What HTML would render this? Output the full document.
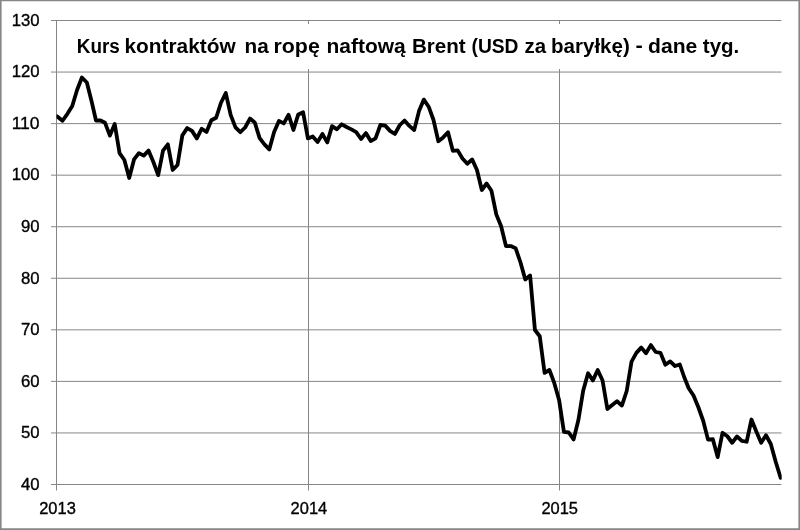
<!DOCTYPE html>
<html lang="pl">
<head>
<meta charset="utf-8">
<title>Kurs kontraktów na ropę naftową Brent (USD za baryłkę) - dane tyg.</title>
<style>
html,body{margin:0;padding:0;background:#fff;}
body{width:800px;height:530px;overflow:hidden;}
svg{display:block;}
text{font-family:"Liberation Sans",sans-serif;fill:#000;}
.ax{font-size:17px;stroke:#000;stroke-width:0.35px;}
.ti{font-size:20.3px;font-weight:bold;}
</style>
</head>
<body>
<svg width="800" height="530" viewBox="0 0 800 530">
<rect x="0" y="0" width="800" height="530" fill="#ffffff"/>
<line x1="51.00" y1="20.50" x2="781.50" y2="20.50" stroke="#868686" stroke-width="1"/>
<line x1="51.00" y1="72.06" x2="781.50" y2="72.06" stroke="#868686" stroke-width="1"/>
<line x1="51.00" y1="123.61" x2="781.50" y2="123.61" stroke="#868686" stroke-width="1"/>
<line x1="51.00" y1="175.17" x2="781.50" y2="175.17" stroke="#868686" stroke-width="1"/>
<line x1="51.00" y1="226.72" x2="781.50" y2="226.72" stroke="#868686" stroke-width="1"/>
<line x1="51.00" y1="278.28" x2="781.50" y2="278.28" stroke="#868686" stroke-width="1"/>
<line x1="51.00" y1="329.83" x2="781.50" y2="329.83" stroke="#868686" stroke-width="1"/>
<line x1="51.00" y1="381.39" x2="781.50" y2="381.39" stroke="#868686" stroke-width="1"/>
<line x1="51.00" y1="432.94" x2="781.50" y2="432.94" stroke="#868686" stroke-width="1"/>
<line x1="51.00" y1="484.50" x2="781.50" y2="484.50" stroke="#868686" stroke-width="1"/>
<line x1="56.50" y1="20.50" x2="56.50" y2="490.50" stroke="#868686" stroke-width="1"/>
<line x1="308.50" y1="20.50" x2="308.50" y2="490.50" stroke="#868686" stroke-width="1"/>
<line x1="559.50" y1="20.50" x2="559.50" y2="490.50" stroke="#868686" stroke-width="1"/>
<rect x="64" y="24" width="690" height="45" fill="#ffffff"/>
<clipPath id="pa"><rect x="56.5" y="10" width="725.2" height="480"/></clipPath>
<polyline clip-path="url(#pa)" points="56.96,116.25 62.49,120.75 67.42,113.80 72.25,106.00 77.08,90.00 81.91,77.50 86.84,82.50 91.57,101.25 96.00,120.50 100.53,120.50 105.06,122.80 109.89,135.60 114.72,123.95 119.55,153.10 124.38,160.00 129.21,178.00 134.04,159.40 138.87,153.10 143.70,155.60 148.53,150.60 153.36,162.00 158.19,175.10 163.02,150.60 167.85,144.30 172.68,170.00 177.51,165.00 182.34,135.40 187.17,128.10 192.00,130.90 196.83,138.40 201.66,128.75 206.49,131.90 211.32,120.25 216.15,117.75 220.98,102.75 225.81,93.05 230.64,114.90 235.47,127.40 240.30,132.15 245.13,127.50 249.96,118.60 254.79,122.50 259.62,138.15 264.45,144.40 269.28,149.40 274.11,131.90 278.94,120.90 283.77,123.40 288.60,114.80 293.43,130.00 298.26,114.40 303.09,112.30 307.92,138.40 312.75,136.50 317.58,142.10 322.41,134.00 327.24,142.40 332.07,126.10 336.90,129.30 341.73,124.30 346.56,127.00 351.39,129.40 356.22,132.10 361.05,139.00 365.88,133.10 370.71,141.10 375.54,138.40 380.37,125.00 385.20,125.60 390.03,130.90 394.86,134.00 399.69,125.25 404.52,120.50 409.35,125.90 414.18,130.10 419.01,111.10 423.84,99.60 428.67,106.70 433.50,120.00 438.33,141.25 443.16,137.40 447.99,132.25 452.82,150.80 457.65,150.40 462.48,158.50 467.31,163.75 472.14,159.40 476.97,170.00 481.80,190.00 486.63,183.50 491.46,190.80 496.29,214.40 501.12,226.25 505.95,246.00 510.78,246.05 515.61,248.20 520.44,262.25 525.27,279.50 530.10,275.40 534.93,330.00 539.76,336.25 544.59,372.90 549.42,370.00 554.25,382.90 559.08,399.90 563.91,431.90 568.74,432.50 573.57,439.45 578.40,420.00 583.23,390.40 588.06,373.25 592.89,380.40 597.72,370.00 602.55,380.50 607.38,409.00 612.21,405.00 617.04,401.25 621.87,405.60 626.70,391.00 631.53,361.60 636.36,352.90 641.19,347.60 646.02,353.25 650.85,345.10 655.68,352.00 660.51,352.90 665.34,364.75 670.17,361.40 675.00,366.00 679.83,364.50 684.26,377.25 688.69,388.20 693.52,395.50 698.35,407.25 703.18,420.75 708.01,439.60 712.84,439.25 717.67,457.10 722.50,432.75 727.33,436.25 732.16,442.75 736.99,436.50 741.82,440.90 746.65,441.75 751.48,419.50 756.31,431.50 761.14,442.75 765.97,435.25 770.80,444.00 775.63,461.50 780.70,477.90" fill="none" stroke="#000000" stroke-width="3.8" stroke-linejoin="round" stroke-linecap="round"/>
<text x="39.6" y="26" text-anchor="end" textLength="27.9" lengthAdjust="spacingAndGlyphs" class="ax">130</text>
<text x="39.6" y="77" text-anchor="end" textLength="27.9" lengthAdjust="spacingAndGlyphs" class="ax">120</text>
<text x="39.6" y="129" text-anchor="end" textLength="27.9" lengthAdjust="spacingAndGlyphs" class="ax">110</text>
<text x="39.6" y="180" text-anchor="end" textLength="27.9" lengthAdjust="spacingAndGlyphs" class="ax">100</text>
<text x="39.6" y="232" text-anchor="end" textLength="18.6" lengthAdjust="spacingAndGlyphs" class="ax">90</text>
<text x="39.6" y="284" text-anchor="end" textLength="18.6" lengthAdjust="spacingAndGlyphs" class="ax">80</text>
<text x="39.6" y="335" text-anchor="end" textLength="18.6" lengthAdjust="spacingAndGlyphs" class="ax">70</text>
<text x="39.6" y="387" text-anchor="end" textLength="18.6" lengthAdjust="spacingAndGlyphs" class="ax">60</text>
<text x="39.6" y="438" text-anchor="end" textLength="18.6" lengthAdjust="spacingAndGlyphs" class="ax">50</text>
<text x="39.6" y="490" text-anchor="end" textLength="18.6" lengthAdjust="spacingAndGlyphs" class="ax">40</text>
<text x="39.20" y="514" textLength="36.6" lengthAdjust="spacingAndGlyphs" class="ax">2013</text>
<text x="290.60" y="514" textLength="36.6" lengthAdjust="spacingAndGlyphs" class="ax">2014</text>
<text x="541.40" y="514" textLength="36.6" lengthAdjust="spacingAndGlyphs" class="ax">2015</text>
<text class="ti"><tspan x="76.8" y="53" textLength="43.1" lengthAdjust="spacingAndGlyphs">Kurs</tspan> <tspan x="124.5" y="53" textLength="111.2" lengthAdjust="spacingAndGlyphs">kontraktów</tspan> <tspan x="244.5" y="53" textLength="24.2" lengthAdjust="spacingAndGlyphs">na</tspan> <tspan x="273.5" y="53" textLength="46.3" lengthAdjust="spacingAndGlyphs">ropę</tspan> <tspan x="326.5" y="53" textLength="79.2" lengthAdjust="spacingAndGlyphs">naftową</tspan> <tspan x="412.0" y="53" textLength="53.7" lengthAdjust="spacingAndGlyphs">Brent</tspan> <tspan x="471.5" y="53" textLength="47.0" lengthAdjust="spacingAndGlyphs">(USD</tspan> <tspan x="524.5" y="53" textLength="21.6" lengthAdjust="spacingAndGlyphs">za</tspan> <tspan x="551.0" y="53" textLength="78.8" lengthAdjust="spacingAndGlyphs">baryłkę)</tspan> <tspan x="635.6" y="51.7" textLength="7.3" lengthAdjust="spacingAndGlyphs">-</tspan> <tspan x="648.0" y="53" textLength="49.3" lengthAdjust="spacingAndGlyphs">dane</tspan> <tspan x="702.8" y="53" textLength="36.5" lengthAdjust="spacingAndGlyphs">tyg.</tspan></text>
<path d="M0 0H800V530H0Z M1.6 1.25V528.15H798.4V1.25Z" fill="#868686" fill-rule="evenodd"/>
</svg>
</body>
</html>
